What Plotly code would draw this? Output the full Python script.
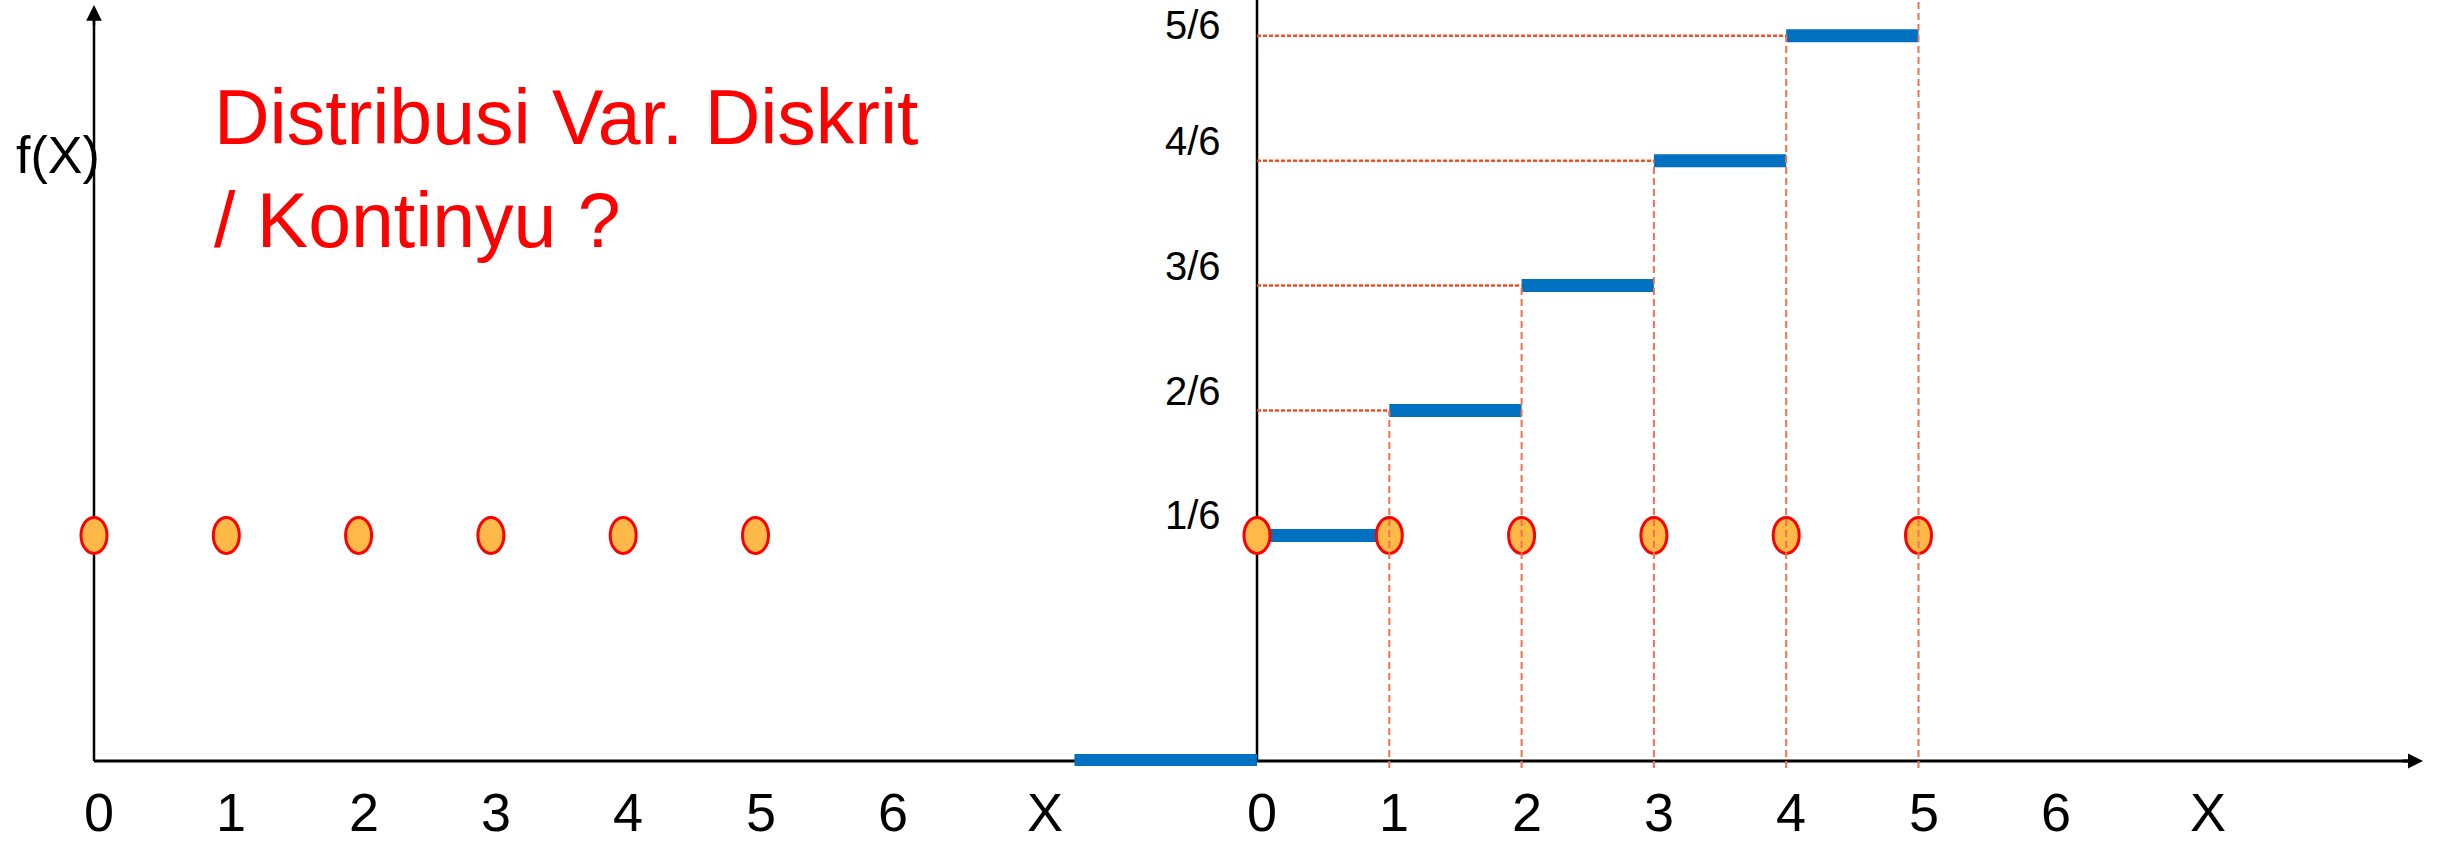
import plotly.graph_objects as go

# ---------------- data ----------------
x_values = [0, 1, 2, 3, 4, 5]                      # X
pmf_values = [1/6, 1/6, 1/6, 1/6, 1/6, 1/6]        # f(X)
step_start = [0, 1, 2, 3, 4]                       # F(x) constant on [start, end)
step_end = [1, 2, 3, 4, 5]
step_level = [1/6, 2/6, 3/6, 4/6, 5/6]
below_x = [-1.38, 0]                               # F(x) = 0 for x < 0
below_F = [0, 0]
guide_x = [1, 2, 3, 4, 5]                          # vertical guides at the jumps
guide_top = [2/6, 3/6, 4/6, 5/6, 6/6]
hguide_end = [1, 2, 3, 4]                          # horizontal guides to the jumps
hguide_level = [2/6, 3/6, 4/6, 5/6]
x_tick_vals = [0, 1, 2, 3, 4, 5, 6, 7.15]
x_tick_text = ["0", "1", "2", "3", "4", "5", "6", "X"]
y_tick_vals = [1/6, 2/6, 3/6, 4/6, 5/6]
y_tick_text = ["1/6", "2/6", "3/6", "4/6", "5/6"]
title_lines = ["Distribusi Var. Diskrit", "/ Kontinyu ?"]
y_title = "f(X)"

# ---------------- layout geometry ----------------
W, H = 2447, 845
PX_UNIT = 132.3          # pixels per X unit
LEFT_O = 94              # pixel x of left origin
RIGHT_O = 1257           # pixel x of right origin
Y0_PX = 660.3            # pixel y of level 0 (main scale)
Y_SCALE = 749.4          # pixels per unit of probability
BASE_PX = 760            # pixel y of the drawn x-axis baseline
AXIS_PX = 761
YLAB_SHIFT = 20          # y tick labels sit this many px above their level
YLAB_MIN_PX = 25         # keep y tick labels inside the canvas

BLUE = "#0070C0"
ORANGE = "#FFB948"
RED = "#FF0000"
GUIDE_V = "#F2714F"
GUIDE_H = "#EF5124"
FONT = "Liberation Sans, Arial, sans-serif"

def py(px):  # pixel-from-top -> paper y
    return 1 - px / H

xr_left = [-LEFT_O / PX_UNIT, (W - LEFT_O) / PX_UNIT]
xr_right = [-RIGHT_O / PX_UNIT, (W - RIGHT_O) / PX_UNIT]
yr = [(Y0_PX - H) / Y_SCALE, Y0_PX / Y_SCALE]
y3r = [-(H - BASE_PX) / H, BASE_PX / H]
y_guide_bottom = (Y0_PX - 768) / Y_SCALE

fig = go.Figure()

# step function of the CDF
sx, sy = [], []
for a, b, lv in zip(step_start, step_end, step_level):
    sx += [a, b, None]
    sy += [lv, lv, None]
fig.add_trace(go.Scatter(x=sx, y=sy, xaxis="x2", yaxis="y", mode="lines",
                         line=dict(color=BLUE, width=13), hoverinfo="skip"))
# F = 0 segment lying on the baseline
fig.add_trace(go.Scatter(x=below_x, y=below_F, xaxis="x2", yaxis="y3", mode="lines",
                         line=dict(color=BLUE, width=12), hoverinfo="skip"))

shapes = []
# axis lines (below everything)
shapes.append(dict(type="line", layer="below", xref="x", yref="paper",
                   x0=0, x1=0, y0=py(AXIS_PX), y1=py(18), line=dict(color="black", width=2.5)))
shapes.append(dict(type="line", layer="below", xref="x", yref="paper",
                   x0=0, x1=(RIGHT_O - LEFT_O) / PX_UNIT, y0=py(AXIS_PX), y1=py(AXIS_PX),
                   line=dict(color="black", width=3)))
shapes.append(dict(type="line", layer="below", xref="x2", yref="paper",
                   x0=0, x1=0, y0=py(AXIS_PX), y1=1, line=dict(color="black", width=2.5)))
shapes.append(dict(type="line", layer="below", xref="x2", yref="paper",
                   x0=0, x1=(2412 - RIGHT_O) / PX_UNIT, y0=py(AXIS_PX), y1=py(AXIS_PX),
                   line=dict(color="black", width=3)))

# dots (ellipses) on both panels
for xref in ("x", "x2"):
    for xv, fv in zip(x_values, pmf_values):
        shapes.append(dict(type="circle", xref=xref, yref="y",
                           xsizemode="pixel", ysizemode="pixel",
                           xanchor=xv, yanchor=fv, x0=-13, x1=13, y0=-18, y1=18,
                           fillcolor=ORANGE, line=dict(color=RED, width=3)))

# guide lines
for gx, gt in zip(guide_x, guide_top):
    shapes.append(dict(type="line", xref="x2", yref="y", x0=gx, x1=gx,
                       y0=y_guide_bottom, y1=gt,
                       line=dict(color=GUIDE_V, width=2, dash="7px,4px")))
for he, hl in zip(hguide_end, hguide_level):
    shapes.append(dict(type="line", xref="x2", yref="y", x0=0, x1=he,
                       y0=hl, y1=hl,
                       line=dict(color=GUIDE_H, width=2.5, dash="4px,2px")))

annotations = []
# arrow heads
annotations.append(dict(xref="x", yref="paper", x=0, y=py(5), ax=0, ay=22,
                        axref="pixel", ayref="pixel", text="", showarrow=True,
                        arrowhead=2, arrowsize=1.25, arrowwidth=2.5, arrowcolor="black",
                        standoff=0))
annotations.append(dict(xref="x2", yref="paper", x=(2423 - RIGHT_O) / PX_UNIT, y=py(AXIS_PX),
                        ax=-22, ay=0, axref="pixel", ayref="pixel", text="", showarrow=True,
                        arrowhead=2, arrowsize=1.0, arrowwidth=3, arrowcolor="black",
                        standoff=0))

# x tick labels for both panels
for xref in ("x", "x2"):
    for tv, tt in zip(x_tick_vals, x_tick_text):
        annotations.append(dict(xref=xref, yref="paper", x=tv, y=py(812), xshift=5,
                                text=tt, showarrow=False, xanchor="center", yanchor="middle",
                                font=dict(family=FONT, size=54, color="black")))
# y tick labels on the right panel (kept inside the canvas)
for tv, tt in zip(y_tick_vals, y_tick_text):
    level_px = Y0_PX - Y_SCALE * tv
    shift = min(YLAB_SHIFT, level_px - YLAB_MIN_PX)
    annotations.append(dict(xref="x2", yref="y", x=0, y=tv, xshift=-64, yshift=shift,
                            text=tt, showarrow=False, xanchor="center", yanchor="middle",
                            font=dict(family=FONT, size=40, color="black")))
# f(X)
annotations.append(dict(xref="paper", yref="paper", x=14 / W, y=py(155), text=y_title,
                        showarrow=False, xanchor="left", yanchor="middle",
                        font=dict(family=FONT, size=52, color="black")))
# title
for line, cy in zip(title_lines, (117, 220)):
    annotations.append(dict(xref="paper", yref="paper", x=212 / W, y=py(cy), text=line,
                            showarrow=False, xanchor="left", yanchor="middle",
                            font=dict(family=FONT, size=77, color=RED)))

axis_common = dict(visible=False, showgrid=False, zeroline=False, fixedrange=True)
fig.update_layout(
    width=W, height=H,
    margin=dict(l=0, r=0, t=0, b=0),
    paper_bgcolor="white", plot_bgcolor="white",
    showlegend=False, hovermode=False,
    xaxis=dict(domain=[0, 1], range=xr_left, **axis_common),
    xaxis2=dict(domain=[0, 1], range=xr_right, overlaying="x", anchor="y", **axis_common),
    yaxis=dict(domain=[0, 1], range=yr, **axis_common),
    yaxis3=dict(domain=[0, 1], range=y3r, overlaying="y", anchor="x", **axis_common),
    shapes=shapes,
    annotations=annotations,
)

fig.write_html("out.html",
               config={"displayModeBar": False},
               post_script="document.body.style.margin='0';document.body.style.overflow='hidden';")
